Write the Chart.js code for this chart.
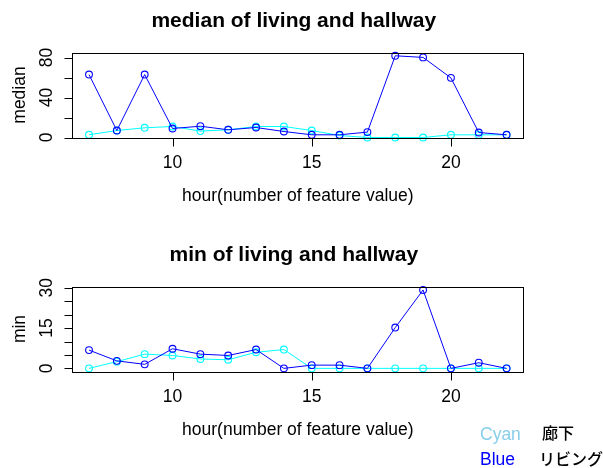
<!DOCTYPE html>
<html><head><meta charset="utf-8">
<script src="https://cdn.jsdelivr.net/npm/chart.js@4/dist/chart.umd.min.js"></script>
<style>
html,body{margin:0;padding:0;background:#fff;}
#wrap{position:relative;width:603px;height:468px;background:#fff;}
canvas{position:absolute;left:0;}
</style></head><body>
<div id="wrap">
<canvas id="c1" width="603" height="234" style="top:0px"></canvas>
<canvas id="c2" width="603" height="234" style="top:234px"></canvas>
</div>
<script>
// ---- data ----
const hours = [7,8,9,10,11,12,13,14,15,16,17,18,19,20,21,22];
const medianLiving  = [63,7,63,9,11.3,7.7,10,6,2.7,2.7,5.4,81.8,80.2,59.7,5,2.7];
const medianHallway = [2.7,7,9.7,11,6.4,7.7,11,11,7,2,0,0,0,2.7,2.7,2.7];
const minLiving  = [6.8,2.8,1.5,7.3,5.3,4.8,7,0,1.2,1.2,0,15.2,29.2,0,2.1,0];
const minHallway = [0,2.5,5.3,4.8,3.5,3.2,6,7,0,0,0,0,0,0,0,0];
const xTickValues = [10,15,20];
const medianYTicks = [0,20,40,60,80];
const medianYLabels = [0,40,80];
const minYTicks = [0,5,10,15,20,25,30];
const minYLabels = [0,15,30];
const legendNames = ["Cyan","Blue"];
const legendLabels = ["廊下","リビング"];

const FONT = '"Liberation Sans", Arial, Helvetica, sans-serif';
const JFONT = '"Noto Sans CJK JP", "Noto Sans CJK SC", sans-serif';

const rFrame = {
  id: 'rframe',
  afterDraw(chart, args, o) {
    const ctx = chart.ctx, a = chart.chartArea, xs = chart.scales.x, ys = chart.scales.y;
    ctx.save();
    ctx.strokeStyle = '#000'; ctx.lineWidth = 1;
    const L = Math.round(a.left) + 0.5, R = Math.round(a.right) + 0.5;
    const T = Math.round(a.top) + 0.5, B = Math.round(a.bottom) + 0.5;
    ctx.strokeRect(L, T, R - L, B - T);
    ctx.beginPath();
    // x axis
    const xp = o.xTicks.map(v => Math.round(xs.getPixelForValue(v)) + 0.5);
    ctx.moveTo(xp[0], B); ctx.lineTo(xp[xp.length - 1], B);
    xp.forEach(px => { ctx.moveTo(px, B); ctx.lineTo(px, B + 8); });
    // y axis
    const yp = o.yTicks.map(v => Math.round(ys.getPixelForValue(v)) + 0.5);
    ctx.moveTo(L, yp[0]); ctx.lineTo(L, yp[yp.length - 1]);
    yp.forEach(py => { ctx.moveTo(L, py); ctx.lineTo(L - 8, py); });
    ctx.stroke();

    ctx.fillStyle = '#000';
    ctx.font = '17.5px ' + FONT;
    ctx.textAlign = 'center'; ctx.textBaseline = 'alphabetic';
    o.xTicks.forEach(v => ctx.fillText(String(v), xs.getPixelForValue(v), a.bottom + 30));
    ctx.fillText(o.xTitle, (a.left + a.right) / 2, a.bottom + 63);
    o.yLabels.forEach(v => {
      ctx.save(); ctx.translate(a.left - 20, ys.getPixelForValue(v)); ctx.rotate(-Math.PI / 2);
      ctx.fillText(String(v), 0, 0); ctx.restore();
    });
    ctx.save(); ctx.translate(a.left - 47, (a.top + a.bottom) / 2); ctx.rotate(-Math.PI / 2);
    ctx.fillText(o.yTitle, 0, 0); ctx.restore();
    ctx.font = 'bold 21px ' + FONT;
    ctx.fillText(o.title, (a.left + a.right) / 2 - 4, 27);

    if (o.legend) {
      ctx.textAlign = 'left';
      ctx.font = '17.5px ' + FONT;
      ctx.fillStyle = '#87CEEB'; ctx.fillText(legendNames[0], 480, 205.5);
      ctx.fillStyle = '#0000FF'; ctx.fillText(legendNames[1], 480, 231);
      ctx.fillStyle = '#000'; ctx.font = '500 16px ' + JFONT;
      ctx.fillText(legendLabels[0], 542, 205);
      ctx.fillText(legendLabels[1], 539, 230.5);
    }
    ctx.restore();
  }
};

function ds(vals, color) {
  return {
    data: hours.map((h, i) => ({x: h, y: vals[i]})),
    borderColor: color, backgroundColor: 'rgba(0,0,0,0)',
    borderWidth: 1, pointRadius: 3.4, pointBorderWidth: 1.1,
    pointBorderColor: color, pointBackgroundColor: 'rgba(0,0,0,0)',
    tension: 0, clip: false, fill: false
  };
}

function makeChart(id, living, hallway, ymin, ymax, yTicks, yLabels, title, yTitle, legend) {
  return new Chart(document.getElementById(id), {
    type: 'line',
    data: { datasets: [ds(living, '#0000FF'), ds(hallway, '#00FFFF')] },
    options: {
      responsive: false, animation: false, devicePixelRatio: 1,
      layout: { padding: { left: 72.3, right: 79.7, top: 52.5, bottom: 96.5 } },
      scales: {
        x: { type: 'linear', min: 6.4, max: 22.6, display: false },
        y: { type: 'linear', min: ymin, max: ymax, display: false }
      },
      plugins: {
        legend: { display: false }, tooltip: { enabled: false }, title: { display: false },
        rframe: { xTicks: xTickValues, yTicks: yTicks, yLabels: yLabels, title: title,
                  yTitle: yTitle, xTitle: 'hour(number of feature value)', legend: legend }
      }
    },
    plugins: [rFrame]
  });
}

makeChart('c1', medianLiving, medianHallway, 0, 85.1, medianYTicks, medianYLabels,
  'median of living and hallway', 'median', false);
makeChart('c2', minLiving, minHallway, -1.17, 30.5, minYTicks, minYLabels,
  'min of living and hallway', 'min', true);
</script>
</body></html>
